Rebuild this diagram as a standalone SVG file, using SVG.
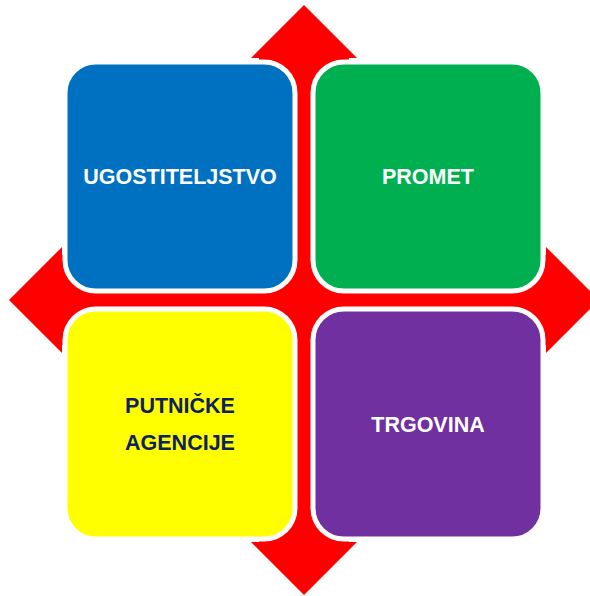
<svg xmlns="http://www.w3.org/2000/svg" width="590" height="596" viewBox="0 0 590 596">
<style>
.box{stroke:#FFFFFF;stroke-width:5}
.lbl{font-family:"Liberation Sans",Arial,sans-serif;font-weight:bold;font-size:21.5px;text-anchor:middle}
.w{fill:#FFFFFF}
.d{fill:#0E2160}
</style>
<rect width="590" height="596" fill="#FFFFFF"/>
<g id="connectors">
<polygon fill="#FF0000" points="304,5 357,58 349,58 349,255 546,255 546,247 599,300 546,353 546,345 349,345 349,542 357,542 304,595 251,542 259,542 259,345 62,345 62,353 9,300 62,247 62,255 259,255 259,58 251,58"/>
</g>
<g id="ugostiteljstvo">
<rect class="box" x="65" y="62" width="230" height="229" rx="31" fill="#0070C0"/>
<text class="lbl w" x="180" y="184">UGOSTITELJSTVO</text>
</g>
<g id="promet">
<rect class="box" x="313" y="62" width="230" height="229" rx="31" fill="#00B050"/>
<text class="lbl w" x="428" y="184">PROMET</text>
</g>
<g id="putnicke-agencije">
<rect class="box" x="65" y="309" width="230" height="230" rx="31" fill="#FFFF00"/>
<text class="lbl d" x="180" y="413">PUTNIČKE</text>
<text class="lbl d" x="180" y="450">AGENCIJE</text>
</g>
<g id="trgovina">
<rect class="box" x="313" y="309" width="230" height="230" rx="31" fill="#7030A0"/>
<text class="lbl w" x="428" y="432">TRGOVINA</text>
</g>
</svg>
